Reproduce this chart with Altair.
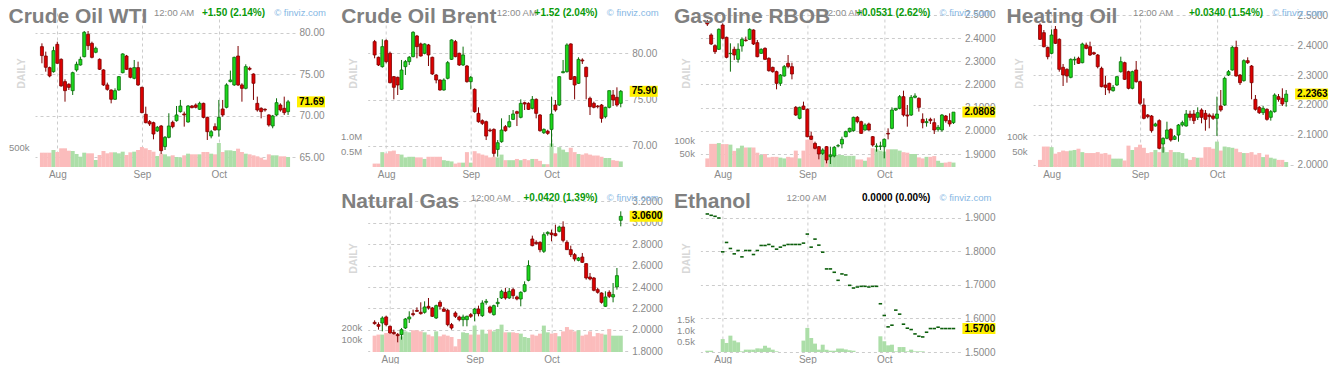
import altair as alt
import pandas as pd

FONT = "Liberation Sans"

# ---------------- Crude Oil WTI ----------------
WTI_OPEN = [78.35,77.22,75.82,75.33,78.63,76.82,74.13,73.81,73.04,75.54,76.14,77.14,79.84,78.75,77.67,76.82,75.54,73.73,73.12,72.00,
            73.12,75.21,77.22,75.74,74.53,75.82,73.44,70.19,69.30,69.18,68.18,68.78,66.29,67.41,69.22,69.42,70.51,70.23,69.26,71.19,
            71.31,70.79,71.51,69.82,67.57,68.70,68.30,70.83,71.03,74.13,73.73,77.22,73.73,73.32,75.74,75.05,71.51,70.91,70.79,70.11,
            68.78,70.11,71.31,70.91,70.51]
WTI_HIGH = [78.75,77.75,75.94,78.35,78.95,76.94,74.41,73.93,75.33,76.54,77.14,80.24,80.24,78.95,78.35,76.94,75.62,74.01,73.20,73.32,
            74.81,77.55,77.35,75.82,76.74,76.54,73.52,71.11,69.50,69.30,68.78,68.90,67.57,70.31,69.42,71.19,71.92,70.51,71.31,71.31,
            71.50,71.71,71.59,69.90,68.30,69.10,71.92,71.92,73.93,75.46,77.14,78.43,73.93,76.22,75.94,75.13,72.32,71.03,70.91,70.19,
            70.11,72.12,71.51,72.32,71.92]
WTI_LOW = [76.34,75.33,74.65,75.21,76.30,73.52,71.71,73.12,72.52,75.33,76.06,77.06,77.95,76.94,77.55,75.54,73.61,73.04,71.51,71.92,
           73.04,75.13,75.54,74.53,74.41,73.61,70.31,69.10,68.78,67.17,68.05,65.40,65.88,67.29,68.50,69.30,70.39,68.70,69.18,70.91,
           70.90,70.71,69.70,67.09,67.29,68.22,67.49,69.90,70.91,74.05,73.61,73.61,71.71,73.20,75.46,71.92,70.51,69.70,70.51,68.70,
           68.50,69.99,70.51,70.11,70.11]
WTI_CLOSE = [77.27,75.86,74.81,77.87,76.34,73.61,73.04,73.44,75.21,76.22,76.82,80.08,78.47,77.06,78.15,75.62,73.73,73.20,72.00,73.04,
             74.73,77.47,75.62,74.65,75.82,73.73,70.39,69.18,69.02,67.81,68.62,65.80,67.41,68.78,68.70,70.11,71.19,70.11,71.19,70.99,
             71.03,71.51,69.82,68.09,68.09,68.30,69.82,70.11,73.73,74.33,77.06,73.73,73.32,75.94,75.62,73.93,70.71,70.51,70.71,68.90,
             69.99,71.59,70.71,70.39,71.69]
WTI_VOL = [358,358,358,425,375,467,467,408,400,325,258,358,342,342,175,300,400,342,367,367,
           342,383,300,367,383,425,500,467,425,383,275,333,317,267,292,250,233,292,333,317,
           317,317,375,375,333,317,600,375,417,417,400,458,375,333,317,292,267,233,183,317,
           292,292,267,267,250]

# ---------------- Crude Oil Brent ----------------
BRENT_OPEN = [81.26,79.57,78.56,81.37,80.00,77.48,77.41,76.11,78.56,79.10,79.64,81.87,81.01,80.00,80.90,79.57,77.66,77.12,76.04,77.30,
              79.35,81.26,80.00,78.74,78.63,76.94,76.11,73.52,72.73,72.62,71.72,71.79,69.63,70.46,72.08,72.08,72.87,73.70,73.09,74.67,
              74.60,74.06,75.03,73.34,71.43,71.60,71.79,74.42,74.42,77.91,78.02,81.01,77.48,76.76,79.28,78.49,75.14,74.60,74.31,74.42,
              73.16,74.17,75.50,75.25,74.60]
BRENT_HIGH = [81.44,79.64,81.51,81.51,80.18,77.55,77.48,79.28,79.28,79.71,82.38,81.98,81.15,81.08,81.01,79.64,77.77,77.19,77.30,79.17,
              81.51,81.44,80.07,80.72,78.74,77.55,76.22,74.17,72.87,72.73,71.90,71.90,70.64,72.98,72.26,73.34,73.88,73.81,75.03,74.78,
              74.71,75.39,75.14,73.45,71.90,71.75,75.32,74.96,77.55,79.28,81.08,81.08,77.55,79.57,79.46,78.56,75.32,74.78,74.42,74.53,
              74.24,75.97,76.04,76.33,76.04]
BRENT_LOW = [79.46,78.63,78.45,78.92,76.76,75.03,75.50,76.04,77.66,78.74,79.57,79.46,79.64,79.89,78.63,77.66,76.76,75.97,75.97,77.19,
             79.28,79.57,78.63,78.63,76.83,76.11,73.59,72.51,72.26,70.64,71.50,68.84,68.84,70.35,71.54,71.97,72.80,72.15,72.98,73.88,
             73.88,73.95,72.98,71.54,71.29,71.20,69.92,73.70,74.31,77.84,77.91,77.12,75.03,76.69,78.85,75.03,73.34,74.06,74.06,72.51,
             72.98,74.06,74.31,74.24,74.17]
BRENT_CLOSE = [79.82,78.74,80.72,79.10,76.83,76.33,76.58,78.20,79.10,79.57,82.27,80.72,79.71,81.01,79.82,77.77,77.12,76.04,77.12,78.99,
               81.44,79.64,78.74,79.82,76.94,77.41,73.70,72.62,72.44,71.07,71.64,69.20,70.35,71.72,71.65,72.62,73.45,73.52,74.60,74.53,
               73.95,75.03,73.52,71.65,71.79,71.36,73.45,73.88,77.48,78.02,80.90,77.19,76.58,79.35,79.17,77.48,74.24,74.17,74.24,72.98,
               74.17,75.97,74.96,74.42,75.90]
BRENT_VOL = [0.11,0.11,0.48,0.44,0.51,0.53,0.42,0.40,0.31,0.33,0.33,0.31,0.31,0.26,0.33,0.33,0.33,0.33,0.22,0.20,
             0.18,0.11,0.14,0.14,0.48,0.14,0.51,0.44,0.40,0.37,0.31,0.33,0.31,0.40,0.22,0.22,0.22,0.26,0.22,0.26,
             0.22,0.26,0.26,0.20,0.09,0.09,0.76,0.44,0.64,0.56,0.48,0.62,0.48,0.42,0.40,0.44,0.40,0.37,0.37,0.33,
             0.29,0.29,0.22,0.20,0.18]

# ---------------- Gasoline RBOB ----------------
GAS_OPEN = [2.4712,2.4137,2.3676,2.3518,2.4568,2.4036,2.3331,2.3518,2.3086,2.3662,2.3921,2.3950,2.4353,2.3806,2.3345,2.3561,2.3130,2.2741,2.2554,2.2050,
            2.2367,2.2914,2.2770,2.1014,2.0540,2.1072,2.0928,1.9777,1.9460,1.9317,1.9029,1.9317,1.8885,1.8914,1.9345,1.9432,1.9748,1.9964,2.0007,2.0583,
            2.0396,2.0036,2.0295,1.9748,1.9317,1.9331,1.9317,1.9892,2.0108,2.0899,2.0971,2.1475,2.0683,2.0683,2.1446,2.1403,2.0496,2.0353,2.0496,2.0353,
            2.0065,2.0036,2.0640,2.0439,2.0353]
GAS_HIGH = [2.4784,2.4209,2.3734,2.4424,2.4640,2.4065,2.3777,2.3633,2.3777,2.4036,2.4065,2.4424,2.4381,2.3921,2.3561,2.3604,2.3173,2.2770,2.2597,2.2453,
            2.2842,2.3273,2.2942,2.1072,2.1043,2.1259,2.0971,1.9964,1.9532,1.9345,1.9245,1.9345,1.9317,1.9345,1.9432,1.9748,2.0007,2.0137,2.0612,2.0640,
            2.0439,2.0324,2.0353,1.9777,1.9460,1.9532,1.9676,2.0108,2.1014,2.0986,2.1547,2.1734,2.1115,2.1547,2.1619,2.1446,2.0755,2.0540,2.0568,2.0540,
            2.0252,2.0727,2.0683,2.0755,2.0784]
GAS_LOW = [2.4525,2.3705,2.3317,2.3489,2.3950,2.3130,2.2554,2.3058,2.2942,2.3417,2.3849,2.3921,2.3705,2.3173,2.3317,2.3058,2.2554,2.2511,2.1791,2.1935,
           2.2338,2.2698,2.2223,2.0640,2.0497,2.0899,1.9719,1.9604,1.9201,1.8770,1.8957,1.8597,1.8568,1.8856,1.9288,1.9245,1.9719,1.9921,1.9964,2.0324,
           1.9863,2.0007,2.0007,1.9317,1.9101,1.9173,1.8813,1.9633,2.0065,2.0856,2.0928,2.0612,2.0180,2.0640,2.1403,2.0827,2.0108,2.0180,2.0295,1.9863,
           1.9964,1.9964,2.0353,2.0180,2.0295]
GAS_CLOSE = [2.4612,2.3748,2.3417,2.4381,2.3993,2.3173,2.3345,2.3273,2.3518,2.3950,2.3892,2.4381,2.3748,2.3201,2.3518,2.3086,2.2597,2.2554,2.2050,2.2410,
             2.2770,2.2770,2.2453,2.0683,2.1014,2.0928,1.9748,1.9633,1.9245,1.9000,1.9173,1.8741,1.8957,1.9288,1.9360,1.9633,1.9964,2.0108,2.0583,2.0396,
             1.9892,2.0252,2.0036,1.9388,1.9345,1.9345,1.9633,1.9863,2.0899,2.0971,2.1475,2.0683,2.0640,2.1446,2.1504,2.1014,2.0353,2.0396,2.0439,2.0036,
             2.0151,2.0683,2.0439,2.0295,2.0808]
GAS_VOL = [33,89,89,92,88,88,86,62,72,82,75,75,75,55,46,50,37,39,39,36,
           33,39,37,63,33,63,105,105,79,66,53,39,50,53,46,46,43,43,43,29,
           29,24,37,72,68,63,59,68,68,68,63,57,55,50,50,37,33,39,39,42,
           24,16,17,20,17]

# ---------------- Heating Oil ----------------
HEAT_OPEN = [2.4667,2.4411,2.3922,2.3722,2.4522,2.4189,2.3256,2.3189,2.2922,2.3500,2.3556,2.3411,2.4000,2.3944,2.3744,2.3667,2.3222,2.2667,2.2722,2.2478,
             2.2667,2.3111,2.3411,2.3111,2.2556,2.3167,2.2778,2.2000,2.1667,2.1633,2.1300,2.1478,2.0700,2.0889,2.1189,2.0856,2.1000,2.1333,2.1300,2.1700,
             2.1700,2.1589,2.1833,2.1722,2.1667,2.1633,2.1556,2.1967,2.2000,2.3000,2.3167,2.3922,2.3000,2.2811,2.3478,2.3300,2.2189,2.1922,2.1744,2.1856,
             2.1589,2.1778,2.2278,2.2222,2.2111]
HEAT_HIGH = [2.4722,2.4500,2.3944,2.4522,2.4633,2.4222,2.3367,2.3222,2.3556,2.3611,2.3611,2.4078,2.4078,2.4111,2.3778,2.3700,2.3278,2.2967,2.2744,2.2667,
             2.2967,2.3611,2.3444,2.3144,2.3144,2.3467,2.2811,2.2222,2.1700,2.1667,2.1411,2.1522,2.0922,2.1444,2.1222,2.1000,2.1367,2.1478,2.1833,2.1811,
             2.1833,2.1922,2.1889,2.1833,2.1722,2.1722,2.2278,2.2500,2.2944,2.3167,2.3967,2.4144,2.3033,2.3522,2.3589,2.3333,2.2333,2.1967,2.1967,2.1889,
             2.1833,2.2389,2.2367,2.2556,2.2500]
HEAT_LOW = [2.4167,2.3922,2.3522,2.3689,2.4033,2.3111,2.2633,2.2744,2.2889,2.3333,2.3367,2.3389,2.3856,2.3633,2.3667,2.3222,2.2589,2.2333,2.2389,2.2444,
            2.2633,2.3078,2.2833,2.2522,2.2522,2.2744,2.2000,2.1522,2.1556,2.1078,2.1278,2.0522,2.0411,2.0856,2.0778,2.0833,2.0778,2.1278,2.1278,2.1478,
            2.1367,2.1500,2.1389,2.1144,2.1222,2.1500,2.0967,2.1778,2.1967,2.2967,2.3144,2.2944,2.2667,2.2778,2.3367,2.2189,2.1811,2.1700,2.1667,2.1478,
            2.1478,2.1744,2.2111,2.1967,2.1944]
HEAT_CLOSE = [2.4189,2.3944,2.3611,2.4333,2.4056,2.3189,2.3000,2.2967,2.3522,2.3522,2.3389,2.4033,2.3889,2.3667,2.3700,2.3278,2.2611,2.2589,2.2500,2.2589,
              2.2944,2.3444,2.2856,2.2556,2.3111,2.2778,2.2056,2.1556,2.1611,2.1144,2.1367,2.0556,2.0889,2.1167,2.0833,2.0944,2.1333,2.1411,2.1700,2.1589,
              2.1478,2.1744,2.1589,2.1522,2.1611,2.1556,2.1700,2.1833,2.2889,2.3111,2.3922,2.2967,2.2744,2.3478,2.3411,2.2744,2.1856,2.1744,2.1889,2.1522,
              2.1778,2.2333,2.2189,2.2033,2.2363]
HEAT_VOL = [23,66,66,64,43,48,53,51,53,55,59,48,45,45,45,48,43,45,40,27,
            27,27,21,69,55,64,72,62,45,48,55,48,64,48,55,48,48,45,27,23,
            32,30,30,64,64,59,82,53,66,64,62,59,48,45,45,48,40,45,32,40,
            30,27,23,23,16]

# ---------------- Natural Gas ----------------
NG_OPEN = [2.0706,2.0488,2.0644,2.1204,2.0333,1.9773,1.9555,1.9555,2.0177,2.1017,2.1515,2.1826,2.1640,2.1640,2.2199,2.2044,2.1110,2.2573,2.1950,2.1826,
           2.0488,2.1577,2.1204,2.0955,2.0955,2.1421,2.1515,2.1950,2.1328,2.2573,2.2137,2.1421,2.2448,2.2977,2.3506,2.2977,2.3755,2.3071,2.2884,2.3600,
           2.4626,2.8484,2.8173,2.8173,2.7333,2.8982,2.9044,2.8982,2.9200,2.9604,2.8173,2.7489,2.7022,2.6493,2.6804,2.6182,2.4937,2.4844,2.3755,2.3444,
           2.2199,2.3506,2.3071,2.4004,3.0226]
NG_HIGH = [2.0892,2.0706,2.1266,2.1328,2.0395,2.0022,1.9711,2.0177,2.1110,2.1733,2.1888,2.2106,2.2573,2.2666,2.2977,2.2137,2.2355,2.2759,2.2137,2.1950,
           2.0644,2.1733,2.1328,2.1421,2.1328,2.1577,2.2044,2.2262,2.2759,2.2884,2.2262,2.2355,2.2977,2.3755,2.3911,2.3911,2.3911,2.3195,2.3600,2.4533,
           2.6493,2.8795,2.8360,2.8266,2.9107,2.9200,2.9356,2.9822,2.9729,3.0133,2.8360,2.7862,2.7178,2.6804,2.7178,2.6244,2.5311,2.4937,2.3911,2.3506,
           2.3600,2.3693,2.4377,2.5777,3.1067]
NG_LOW = [2.0488,2.0022,1.9866,2.0333,1.9648,1.9555,1.8839,1.9088,2.0084,2.0644,2.1266,2.1670,2.1421,2.1515,2.1888,2.1204,2.1017,2.1888,2.1700,2.0333,
          2.0022,2.1110,2.0800,2.0333,2.0333,2.1110,2.0800,2.1266,2.1204,2.2355,2.1515,2.1328,2.2137,2.2884,2.2822,2.2884,2.2884,2.2759,2.2199,2.3506,
          2.4533,2.7800,2.7955,2.7240,2.7178,2.8795,2.8266,2.8733,2.9107,2.8173,2.7489,2.6804,2.6400,2.6400,2.6244,2.4689,2.4626,2.3600,2.3382,2.2448,
          2.2137,2.2977,2.2573,2.3755,2.9667]
NG_CLOSE = [2.0582,2.0333,2.1110,2.0488,1.9711,1.9648,1.9461,2.0022,2.1017,2.1204,2.1421,2.1733,2.1515,2.2137,2.2044,2.1266,2.2262,2.2199,2.1733,2.0488,
            2.0177,2.1266,2.0955,2.1204,2.1266,2.1266,2.1950,2.1515,2.2510,2.2666,2.1640,2.2262,2.2573,2.3600,2.2977,2.3600,2.3195,2.2884,2.3506,2.4222,
            2.5995,2.7862,2.8049,2.7489,2.8889,2.9107,2.8889,2.8795,2.9604,2.8360,2.7489,2.7022,2.6618,2.6711,2.6306,2.4844,2.4751,2.3693,2.3506,2.2573,
            2.3071,2.3133,2.3288,2.5062,3.0600]
NG_VOL = [136,145,145,158,153,164,153,131,172,164,181,181,172,164,145,131,172,131,145,136,
          125,47,108,164,158,145,220,145,186,153,186,172,192,228,164,164,164,158,153,125,
          117,145,136,153,220,164,153,158,131,172,208,186,172,181,136,145,172,131,158,153,
          145,192,136,136,136]

# ---------------- Ethanol ----------------
ETH_CLOSE = [1.912,1.908,1.905,1.900,1.799,1.827,1.809,1.793,1.803,1.784,1.803,1.803,1.791,1.803,1.818,1.818,1.821,1.815,1.807,1.813,
             1.818,1.821,1.821,1.821,1.821,1.825,1.852,1.813,1.837,1.819,1.798,1.748,1.748,1.738,1.714,1.733,1.730,1.699,1.691,1.694,
             1.696,1.696,1.694,1.696,1.696,1.644,1.609,1.575,1.580,1.625,1.613,1.583,1.571,1.567,1.554,1.547,1.545,1.559,1.570,1.570,
             1.574,1.570,1.570,1.570,1.570]
ETH_VOL = [0.06,0.06,0,0,0.60,0.42,0.76,0.53,0.45,0.03,0.11,0.11,0.11,0.17,0.16,0.29,0.20,0.11,0.03,0,
           0,0,0,0,0,0.53,1.12,0.65,0.39,0.11,0.34,0.11,0.06,0.06,0.16,0.16,0.12,0.08,0.06,0,
           0,0,0,0,0,0.73,0.50,0.31,0.34,0.03,0.23,0.23,0.03,0.11,0.03,0.03,0.03,0,0,0,
           0,0,0,0,0]

MONTHS = ["Aug", "Sep", "Oct"]

# ---------------- styling ----------------
UP_BODY, UP_LINE = "#1cd81c", "#0a6e0a"
DN_BODY, DN_LINE = "#dd0000", "#7d0000"
VOL_UP, VOL_DN = "#acdea8", "#fbbcbc"
GRID = "#cccccc"
LABEL = "#8a8a8a"
W, H = 260, 154
XDOM = [-0.5, 64.5]
HEAD_Y = 2.5


def text_layer(txt, x, y, size, color, weight="normal", align="left"):
    return alt.Chart(pd.DataFrame({"t": [txt]})).mark_text(
        align=align, baseline="alphabetic", fontSize=size, font=FONT,
        fontWeight=weight, color=color
    ).encode(x=alt.value(x), y=alt.value(y), text="t:N")


def panel(title, opens, highs, lows, closes, vols, price_dom, price_ticks, price_fmt,
          vol_dom, vol_ticks, vol_fmt, vol_suffix, month_idx, time_x, change,
          change_color, box_w, ticks_only=False):
    n = min(len(opens), len(highs), len(lows), len(closes), len(vols))
    df = pd.DataFrame({
        "i": list(range(n)),
        "o": opens[:n], "h": highs[:n], "l": lows[:n], "c": closes[:n], "v": vols[:n],
    })
    up = df["c"] >= df["o"]
    df["bc"] = [UP_BODY if u else DN_BODY for u in up]
    df["sc"] = [UP_LINE if u else DN_LINE for u in up]
    if ticks_only:
        df["vc"] = VOL_UP
    else:
        df["vc"] = [VOL_UP if u else VOL_DN for u in up]

    m0, m1, m2 = month_idx
    xscale = alt.Scale(domain=XDOM, nice=False, zero=False)
    xaxis = alt.Axis(
        values=list(month_idx),
        labelExpr=f"datum.value == {m0} ? '{MONTHS[0]}' : datum.value == {m1} ? '{MONTHS[1]}' : '{MONTHS[2]}'",
        grid=True, gridDash=[3, 3], gridColor=GRID, domain=False, ticks=False, tickSize=0,
        labelColor=LABEL, labelFontSize=10, labelFont=FONT, labelPadding=2,
        labelFlush=False, labelOverlap=False, title=None)
    X = alt.X("i:Q", scale=xscale, axis=xaxis)

    pscale = alt.Scale(domain=price_dom, nice=False, zero=False)
    paxis = alt.Axis(orient="right", values=price_ticks, format=price_fmt, grid=True,
                     gridDash=[3, 3], gridColor=GRID, domain=False, ticks=False, tickSize=0,
                     labelColor=LABEL, labelFontSize=10, labelFont=FONT, labelPadding=4,
                     labelOverlap=False, labelFlush=False, title=None)

    vaxis = alt.Axis(orient="left", values=vol_ticks,
                     labelExpr=f"format(datum.value, '{vol_fmt}') + '{vol_suffix}'",
                     grid=False, domain=False, ticks=False, tickSize=0,
                     labelColor=LABEL, labelFontSize=9.5, labelFont=FONT, labelPadding=6,
                     labelOverlap=False, labelFlush=False,
                     title="DAILY", titleColor="#d8d8d8", titleFontSize=10.5,
                     titleFont=FONT, titleFontWeight="bold", titleX=-14, titleY=60,
                     titleAngle=270, titleAlign="center", titleBaseline="middle")

    base = alt.Chart(df)
    vol = base.mark_bar(orient="vertical", size=4).encode(
        x=X,
        y=alt.Y("v:Q", stack=None, scale=alt.Scale(domain=vol_dom, nice=False, zero=True), axis=vaxis),
        color=alt.Color("vc:N", scale=None),
    )

    last = df.tail(1).copy()
    last["lbl"] = [format(float(v), price_fmt) for v in last["c"]]
    r = 11.0 / box_w
    path = f"M-1,-{r:.4f} L1,-{r:.4f} L1,{r:.4f} L-1,{r:.4f} Z"
    box = alt.Chart(last).mark_point(shape=path, filled=True, size=box_w * box_w,
                                     color="#fff000", opacity=1, strokeWidth=0).encode(
        x=alt.value(262 + box_w / 2.0),
        y=alt.Y("c:Q", scale=pscale, axis=paxis),
    )
    boxtext = alt.Chart(last).mark_text(align="left", baseline="middle", fontSize=10,
                                        font=FONT, fontWeight="bold", color="#000000").encode(
        x=alt.value(264),
        y=alt.Y("c:Q", scale=pscale, axis=paxis),
        text="lbl:N",
    )

    if ticks_only:
        dash = base.mark_rule(strokeWidth=1.6, color="#0b5e0b").transform_calculate(
            x0="datum.i - 0.45", x1="datum.i + 0.45"
        ).encode(
            x=alt.X("x0:Q", scale=xscale, axis=xaxis),
            x2="x1:Q",
            y=alt.Y("c:Q", scale=pscale, axis=paxis),
        )
        price = alt.layer(dash, box, boxtext)
    else:
        wick = base.mark_rule(strokeWidth=1).encode(
            x=X,
            y=alt.Y("l:Q", scale=pscale, axis=paxis),
            y2="h:Q",
            color=alt.Color("sc:N", scale=None),
        )
        body = base.mark_bar(orient="vertical", size=3, strokeWidth=0.8).encode(
            x=X,
            y=alt.Y("o:Q", scale=pscale, axis=paxis),
            y2="c:Q",
            fill=alt.Fill("bc:N", scale=None),
            stroke=alt.Stroke("sc:N", scale=None),
        )
        price = alt.layer(wick, body, box, boxtext)

    t_time = text_layer("12:00 AM", time_x, HEAD_Y, 9.5, "#8c8c8c")
    t_change = text_layer(change, 230, HEAD_Y, 10, change_color, weight="bold", align="right")
    t_site = text_layer("\u00a9 finviz.com", 291, HEAD_Y, 9.5, "#86b7e4", align="right")
    t_title = text_layer(title, -26.5, 10, 21, "#808080", weight="bold")

    return alt.layer(vol, price, t_time, t_change, t_site, t_title).resolve_scale(
        y="independent"
    ).properties(width=W, height=H)


GREEN_TXT = "#0a9a0a"

p_wti = panel("Crude Oil WTI", WTI_OPEN, WTI_HIGH, WTI_LOW, WTI_CLOSE, WTI_VOL,
              [63.83, 82.41], [65, 70, 75, 80], ".2f",
              [0, 3850], [500], "d", "k", (4, 26, 46), 119, "+1.50 (2.14%)", GREEN_TXT, 28)
p_brent = panel("Crude Oil Brent", BRENT_OPEN, BRENT_HIGH, BRENT_LOW, BRENT_CLOSE, BRENT_VOL,
                [67.73, 84.35], [70, 75, 80], ".2f",
                [0, 4.97], [0.5, 1.0], ".1f", "M", (3, 25, 46), 129, "+1.52 (2.04%)", GREEN_TXT, 28)
p_gas = panel("Gasoline RBOB", GAS_OPEN, GAS_HIGH, GAS_LOW, GAS_CLOSE, GAS_VOL,
              [1.8439, 2.5086], [1.9, 2.0, 2.1, 2.2, 2.3, 2.4, 2.5], ".4f",
              [0, 592], [50, 100], "d", "k", (4, 26, 46), 122, "+0.0531 (2.62%)", GREEN_TXT, 33)
p_heat = panel("Heating Oil", HEAT_OPEN, HEAT_HIGH, HEAT_LOW, HEAT_CLOSE, HEAT_VOL,
               [1.9933, 2.5067], [2.0, 2.1, 2.2, 2.3, 2.4, 2.5], ".4f",
               [0, 497], [50, 100], "d", "k", (3, 26, 46), 100, "+0.0340 (1.54%)", GREEN_TXT, 33)
p_ng = panel("Natural Gas", NG_OPEN, NG_HIGH, NG_LOW, NG_CLOSE, NG_VOL,
             [1.7935, 3.231], [1.8, 2.0, 2.2, 2.4, 2.6, 2.8, 3.0, 3.2], ".4f",
             [0, 1283], [100, 200], "d", "k", (4, 26, 46), 103, "+0.0420 (1.39%)", GREEN_TXT, 33)
p_eth = panel("Ethanol", ETH_CLOSE, ETH_CLOSE, ETH_CLOSE, ETH_CLOSE, ETH_VOL,
              [1.5, 1.9597], [1.5, 1.6, 1.7, 1.8, 1.9], ".4f",
              [0, 7.16], [0.5, 1.0, 1.5], ".1f", "k", (4, 26, 46), 86, "0.0000 (0.00%)", "#000000", 33,
              ticks_only=True)

blank = alt.Chart(pd.DataFrame({"a": [0]})).mark_point(opacity=0).encode(
    x=alt.X("a:Q", axis=None), y=alt.Y("a:Q", axis=None)
).properties(width=W, height=H)

chart = alt.concat(
    p_wti, p_brent, p_gas, p_heat, blank, p_ng, p_eth,
    columns=4, spacing={"row": 31, "column": 72.7}, bounds="flush"
).properties(
    padding={"left": 0, "top": -2, "right": 2, "bottom": 0}
).configure(font=FONT, background="white").configure_view(stroke=None)

chart.save("out.html", embed_options={"renderer": "svg", "actions": False})
